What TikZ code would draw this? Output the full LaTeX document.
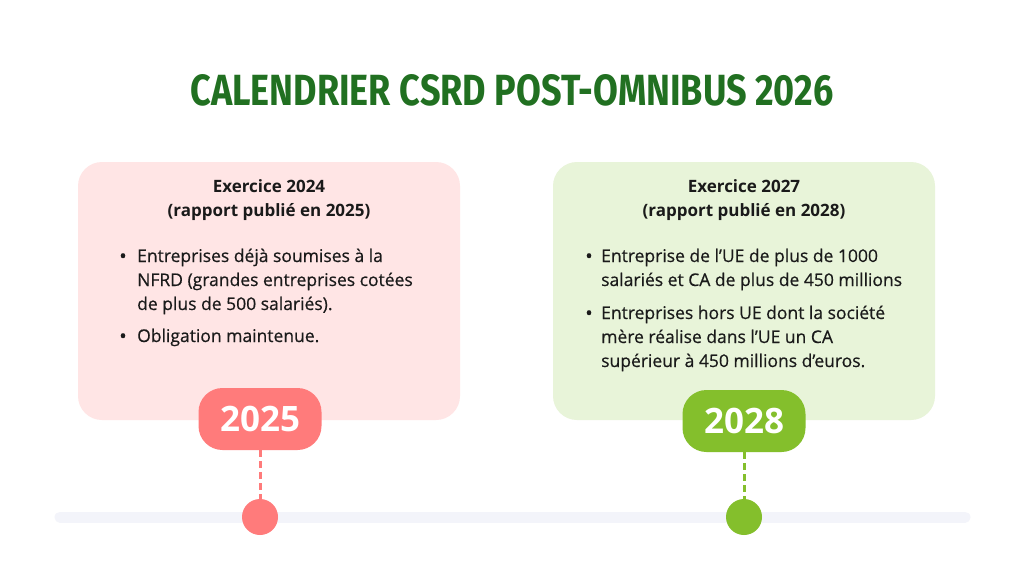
\documentclass[tikz,border=0pt]{standalone}
\usepackage{fontspec}
\setmainfont{Open Sans}
\newfontfamily\bodyfont{Open Sans}[FakeBold=0.5]
\newfontfamily\titlefont{Fira Sans}
\definecolor{titlegreen}{HTML}{217021}
\definecolor{pinkbox}{HTML}{FFE5E5}
\definecolor{pinkbadge}{HTML}{FF7B7B}
\definecolor{greenbox}{HTML}{E8F4D9}
\definecolor{greenbadge}{HTML}{84BF2C}
\definecolor{lineclr}{HTML}{F3F4FA}
\definecolor{textclr}{HTML}{1A1A1A}
\tikzset{
  card/.style={rounded corners=24pt, minimum width=382pt, minimum height=258pt, inner sep=0pt},
  badge/.style={rounded corners=24pt, minimum width=123pt, minimum height=62pt, inner sep=0pt,
    text=white, font=\fontsize{35}{38}\selectfont\bfseries},
  dot/.style={circle, minimum size=36pt, inner sep=0pt},
  head/.style={anchor=base, font=\fontsize{17}{20}\selectfont\bfseries, text=textclr, inner sep=0pt},
  body/.style={anchor=base west, font=\bodyfont\fontsize{17.5}{20}\selectfont, text=textclr, inner sep=0pt},
  bul/.style={anchor=base, font=\bodyfont\fontsize{20}{20}\selectfont, text=textclr, inner sep=0pt},
  connector/.style={line width=3pt, dash pattern=on 7pt off 4pt},
}
\begin{document}
\begin{tikzpicture}[x=1pt,y=-1pt]
\useasboundingbox[fill=white] (0,0) rectangle (1024,576);
% title
\node[text=titlegreen, inner sep=0pt] (title) at (512,90)
  {\resizebox{643pt}{31pt}{\titlefont\bfseries CALENDRIER CSRD POST-OMNIBUS 2026}};
% timeline
\draw[line width=11pt, lineclr, line cap=round] (60,517) coordinate (tl1) -- (965,517) coordinate (tl2);
% cards
\node[card, fill=pinkbox] (c1) at (269,291) {};
\node[card, fill=greenbox] (c2) at (744,291) {};
% left card text
\node[head] (h1a) at (269,192) {Exercice 2024};
\node[head] (h1b) at (269,216) {(rapport publié en 2025)};
\node[bul] (b1a) at (123,263) {•};
\node[body] (t1a) at (137,262) {Entreprises déjà soumises à la};
\node[body] (t1b) at (137,286) {NFRD (grandes entreprises cotées};
\node[body] (t1c) at (137,310) {de plus de 500 salariés).};
\node[bul] (b1b) at (123,343) {•};
\node[body] (t1d) at (137,342) {Obligation maintenue.};
% right card text
\node[head] (h2a) at (744,192) {Exercice 2027};
\node[head] (h2b) at (744,216) {(rapport publié en 2028)};
\node[bul] (b2a) at (589,263) {•};
\node[body] (t2a) at (601,262) {Entreprise de l’UE de plus de 1000};
\node[body] (t2b) at (601,286) {salariés et CA de plus de 450 millions};
\node[bul] (b2b) at (589,320) {•};
\node[body] (t2c) at (601,319) {Entreprises hors UE dont la société};
\node[body] (t2d) at (601,343) {mère réalise dans l’UE un CA};
\node[body] (t2e) at (601,367) {supérieur à 450 millions d’euros.};
% badges
\node[badge, fill=pinkbadge] (y1) at (260,419) {2025};
\node[badge, fill=greenbadge] (y2) at (744,421) {2028};
% dots
\node[dot, fill=pinkbadge] (d1) at (260,517) {};
\node[dot, fill=greenbadge] (d2) at (744,517) {};
% connectors
\draw[connector, pinkbadge] (y1.south) -- (d1.north);
\draw[connector, greenbadge] (y2.south) -- (d2.north);
\end{tikzpicture}
\end{document}
